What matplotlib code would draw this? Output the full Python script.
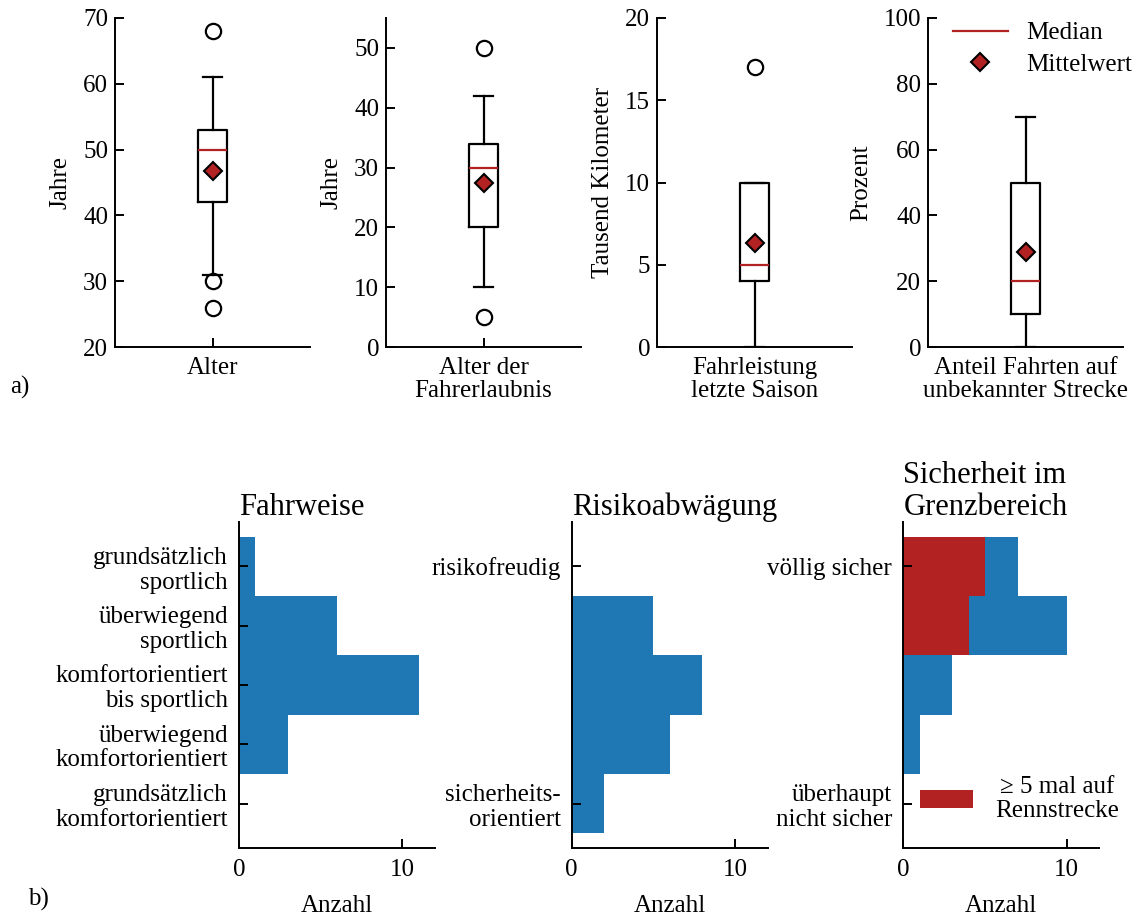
import numpy as np
import matplotlib
matplotlib.use("Agg")
import matplotlib.pyplot as plt
from matplotlib.lines import Line2D

plt.rcParams['font.family'] = ['Liberation Serif', 'DejaVu Serif']
plt.rcParams['font.size'] = 18
plt.rcParams['axes.linewidth'] = 1.4

RED = '#b22222'
BLUE = '#1f77b4'

# a) Kennwerte der Probanden (Boxplots)
box_names = ["Alter", "Alter der\nFahrerlaubnis", "Fahrleistung\nletzte Saison",
             "Anteil Fahrten auf\nunbekannter Strecke"]
box_units = ["Jahre", "Jahre", "Tausend Kilometer", "Prozent"]
box_q1 = [42, 20, 4, 10]
box_med = [50, 30, 5, 20]
box_q3 = [53, 34, 10, 50]
box_whislo = [31, 10, 0, 0]
box_whishi = [61, 42, 10, 70]
box_mean = [46.7, 27.5, 6.3, 28.8]
box_fliers = [[68, 30, 26], [50, 5], [17], []]
box_ylim = [(20, 70), (0, 55), (0, 20), (0, 100)]
box_yticks = [[20, 30, 40, 50, 60, 70], [0, 10, 20, 30, 40, 50],
              [0, 5, 10, 15, 20], [0, 20, 40, 60, 80, 100]]

# b) Selbsteinschaetzung (Histogramme), Stufen 1 (unten) bis 5 (oben)
levels = [1, 2, 3, 4, 5]
fahrweise_counts = [0, 3, 11, 6, 1]
risiko_counts = [2, 6, 8, 5, 0]
sicherheit_counts = [0, 1, 3, 10, 7]
sicherheit_renn_counts = [0, 0, 0, 4, 5]

fahrweise_ticks = ["grundsätzlich\nkomfortorientiert", "überwiegend\nkomfortorientiert",
                   "komfortorientiert\nbis sportlich", "überwiegend\nsportlich",
                   "grundsätzlich\nsportlich"]
risiko_ticks = ["sicherheits-\norientiert", "risikofreudig"]
sicherheit_ticks = ["überhaupt\nnicht sicher", "völlig sicher"]

W, H = 1140, 915
fig = plt.figure(figsize=(W / 100, H / 100), dpi=100)


def add_ax(l, r, t, b):
    return fig.add_axes([l / W, 1 - b / H, (r - l) / W, (b - t) / H])


def style(ax, pad=5):
    ax.spines['top'].set_visible(False)
    ax.spines['right'].set_visible(False)
    ax.tick_params(direction='in', length=6.5, width=1.4, pad=pad)


top_lefts = [115, 386, 657, 928]
for i in range(4):
    l = top_lefts[i]
    ax = add_ax(l, l + 195, 18, 347)
    stats = [dict(med=box_med[i], q1=box_q1[i], q3=box_q3[i],
                  whislo=box_whislo[i], whishi=box_whishi[i],
                  mean=box_mean[i], fliers=box_fliers[i])]
    ax.bxp(stats, positions=[1], widths=0.15, capwidths=0.1, showmeans=True,
           boxprops=dict(color='black', linewidth=1.6),
           whiskerprops=dict(color='black', linewidth=1.6),
           capprops=dict(color='black', linewidth=1.6),
           medianprops=dict(color=RED, linewidth=1.6),
           meanprops=dict(marker='D', markerfacecolor=RED, markeredgecolor='black',
                          markeredgewidth=1.5, markersize=9),
           flierprops=dict(marker='o', markerfacecolor='none', markeredgecolor='black',
                           markeredgewidth=1.6, markersize=11))
    ax.set_xlim(0.5, 1.5)
    ax.set_ylim(*box_ylim[i])
    ax.set_yticks(box_yticks[i])
    ax.set_xticks([1])
    ax.set_xticklabels([box_names[i]], linespacing=1.05)
    ax.set_ylabel(box_units[i], labelpad=8)
    style(ax)
    ax.tick_params(axis='x', pad=7)
    if i == 3:
        handles = [Line2D([], [], color=RED, linewidth=1.6),
                   Line2D([], [], linestyle='none', marker='D', markerfacecolor=RED,
                          markeredgecolor='black', markeredgewidth=1.5, markersize=9)]
        ax.legend(handles, ["Median", "Mittelwert"], loc='upper left',
                  bbox_to_anchor=(0.128, 0.988), frameon=False, borderpad=0,
                  borderaxespad=0, handlelength=2.2, labelspacing=0.35,
                  handletextpad=0.75)

bottom_lefts = [239, 571.7, 903.3]
titles = ["Fahrweise", "Risikoabwägung", "Sicherheit im\nGrenzbereich"]
for i in range(3):
    l = bottom_lefts[i]
    ax = add_ax(l, l + 196, 522, 848)
    if i == 0:
        ax.barh(levels, fahrweise_counts, height=1.0, color=BLUE)
        ax.set_yticks(levels)
        ax.set_yticklabels(fahrweise_ticks, linespacing=1.15)
    elif i == 1:
        ax.barh(levels, risiko_counts, height=1.0, color=BLUE)
        ax.set_yticks([levels[0], levels[-1]])
        ax.set_yticklabels(risiko_ticks, linespacing=1.15)
    else:
        ax.barh(levels, sicherheit_counts, height=1.0, color=BLUE)
        ax.barh(levels, sicherheit_renn_counts, height=1.0, color=RED,
                label="≥ 5 mal auf\nRennstrecke")
        ax.set_yticks([levels[0], levels[-1]])
        ax.set_yticklabels(sicherheit_ticks, linespacing=1.15)
        leg = ax.legend(loc='center left', bbox_to_anchor=(0.087, 0.15),
                        frameon=False, borderpad=0, borderaxespad=0,
                        handlelength=2.1, handleheight=0.72, handletextpad=0.9)
        for t in leg.get_texts():
            t.set_multialignment('center')
            t.set_linespacing(1.15)
    ax.set_xlim(0, 12)
    ax.set_ylim(0.25, 5.75)
    ax.set_xticks([0, 10])
    ax.set_xlabel("Anzahl", labelpad=10)
    ax.set_title(titles[i], loc='left', fontsize=22, pad=2, linespacing=1.15)
    style(ax, pad=8)

fig.text(10 / W, 1 - 387 / H, "a)", va='center', ha='left')
fig.text(28 / W, 1 - 899 / H, "b)", va='center', ha='left')

fig.savefig("out.png", dpi=100)
